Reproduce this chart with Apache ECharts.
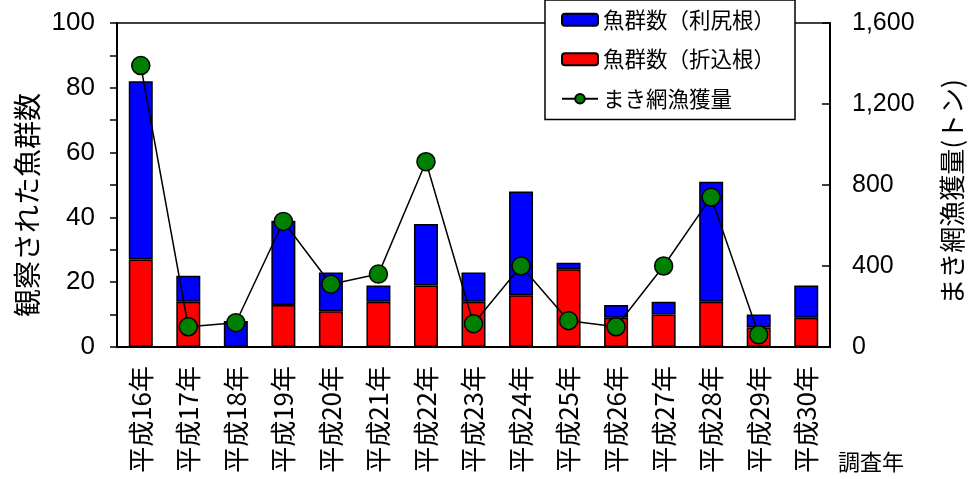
<!DOCTYPE html>
<html>
<head>
<meta charset="utf-8">
<script src="https://cdn.jsdelivr.net/npm/echarts@6/dist/echarts.min.js"></script>
<style>
  html, body { margin: 0; padding: 0; background: #fff; }
  #chart { width: 969px; height: 479px; }
</style>
</head>
<body>
<div id="chart"></div>
<script>
// 調査年
const years = ['平成16年', '平成17年', '平成18年', '平成19年', '平成20年', '平成21年', '平成22年', '平成23年',
  '平成24年', '平成25年', '平成26年', '平成27年', '平成28年', '平成29年', '平成30年'];
// 魚群数（折込根）
const schoolsOrikomi = [27, 14, 0, 13, 11, 14, 19, 14, 16, 24, 9, 10, 14, 6, 9];
// 魚群数（利尻根）
const schoolsRishiri = [55, 8, 8, 26, 12, 5, 19, 9, 32, 2, 4, 4, 37, 4, 10];
// まき網漁獲量（トン）
const catchTons = [1390, 100, 120, 620, 310, 360, 915, 115, 400, 130, 100, 400, 740, 60, null];

const FONT = "'Liberation Sans', 'Noto Sans CJK JP', sans-serif";
const JP = "'Noto Sans CJK JP', sans-serif";

const chart = echarts.init(document.getElementById('chart'), null, { renderer: 'canvas' });

chart.setOption({
  animation: false,
  textStyle: { fontFamily: FONT, color: '#000' },
  grid: {
    left: 117, right: 139, top: 23, bottom: 132,
    show: true, borderColor: '#000', borderWidth: 1.5, backgroundColor: 'transparent'
  },
  legend: {
    orient: 'vertical',
    left: 545, top: 0,
    data: ['魚群数（利尻根）', '魚群数（折込根）', 'まき網漁獲量'],
    backgroundColor: '#fff',
    borderColor: '#000', borderWidth: 1.5,
    padding: [9, 20, 10, 16],
    itemWidth: 36, itemHeight: 12, itemGap: 18,
    textStyle: { fontFamily: JP, fontSize: 21.5, color: '#000' }
  },
  xAxis: {
    type: 'category',
    data: years,
    axisLine: { lineStyle: { color: '#000', width: 2 } },
    axisTick: { inside: true, length: 6, lineStyle: { color: '#000', width: 1.5 } },
    axisLabel: { rotate: 90, margin: 19, fontSize: 26, fontFamily: JP, color: '#000' }
  },
  yAxis: [
    {
      type: 'value', min: 0, max: 100, interval: 10,
      splitLine: { show: false },
      axisLine: { show: true, lineStyle: { color: '#000', width: 2 } },
      axisTick: { show: true, length: 7, lineStyle: { color: '#000', width: 1.5 } },
      axisLabel: {
        margin: 22, fontSize: 26, color: '#000',
        formatter: v => (v % 20 === 0 ? String(v) : '')
      }
    },
    {
      type: 'value', min: 0, max: 1600, interval: 400,
      splitLine: { show: false },
      axisLine: { show: true, lineStyle: { color: '#000', width: 2 } },
      axisTick: { show: true, inside: true, length: 8, lineStyle: { color: '#000', width: 1.5 } },
      axisLabel: {
        margin: 22, fontSize: 25, color: '#000',
        formatter: v => v.toLocaleString('en-US')
      }
    }
  ],
  series: [
    {
      name: '魚群数（折込根）', type: 'bar', stack: 'schools',
      data: schoolsOrikomi, barWidth: 24,
      itemStyle: { color: '#ff0000', borderColor: '#000', borderWidth: 1.5 }
    },
    {
      name: '魚群数（利尻根）', type: 'bar', stack: 'schools',
      data: schoolsRishiri, barWidth: 24,
      itemStyle: { color: '#0000ff', borderColor: '#000', borderWidth: 1.5 }
    },
    {
      name: 'まき網漁獲量', type: 'line', yAxisIndex: 1,
      data: catchTons,
      symbol: 'circle', symbolSize: 18,
      lineStyle: { color: '#000', width: 1.5 },
      itemStyle: { color: '#008000', borderColor: '#000', borderWidth: 1.5 },
      z: 5
    }
  ],
  graphic: [
    {
      type: 'text', x: 27, y: 205, rotation: Math.PI / 2,
      style: { text: '観察された魚群数', fontFamily: JP, fontSize: 28, fill: '#000', align: 'center', verticalAlign: 'middle' }
    },
    {
      type: 'text', x: 952, y: 192, rotation: Math.PI / 2,
      style: { text: 'まき網漁獲量(トン)', fontFamily: JP, fontSize: 26, fill: '#000', align: 'center', verticalAlign: 'middle' }
    },
    {
      type: 'text', x: 871, y: 462,
      style: { text: '調査年', fontFamily: JP, fontSize: 22, fill: '#000', align: 'center', verticalAlign: 'middle' }
    }
  ]
});
</script>
</body>
</html>
